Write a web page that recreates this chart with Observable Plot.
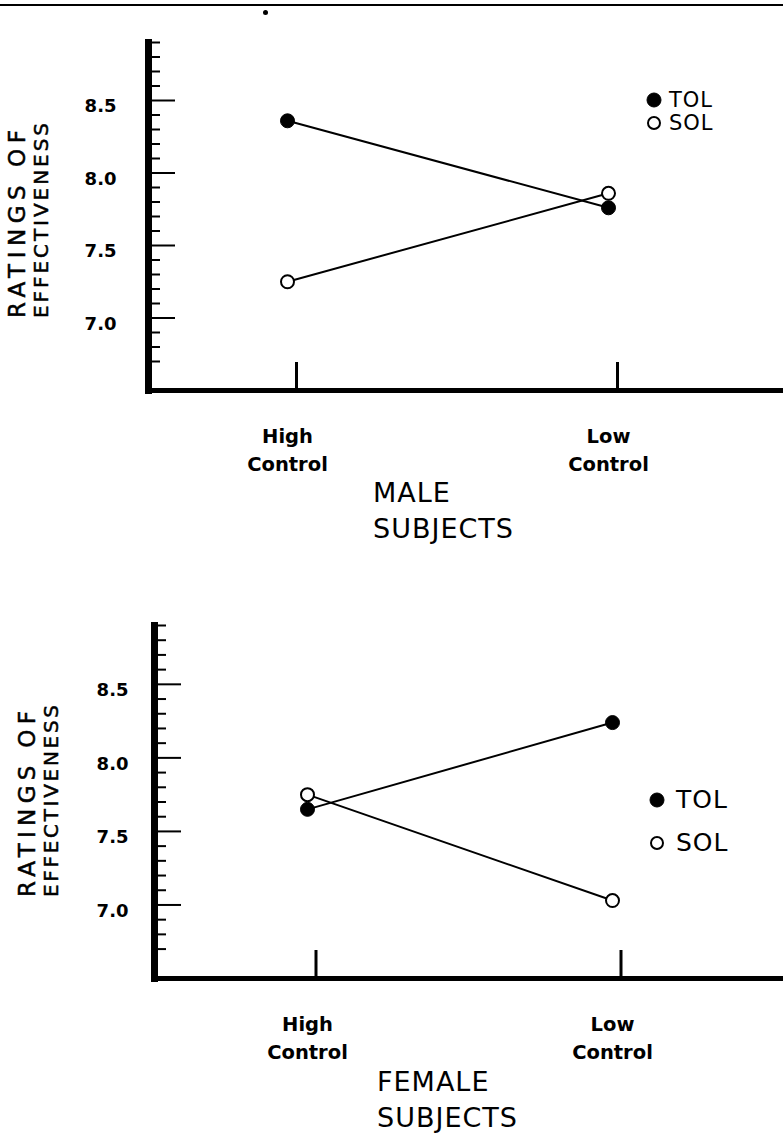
<!DOCTYPE html>
<html><head><meta charset="utf-8">
<script src="https://cdn.jsdelivr.net/npm/d3@7"></script>
<script src="https://cdn.jsdelivr.net/npm/@observablehq/plot@0.6"></script>
<style>
body{margin:0;background:#fff;width:783px;height:1134px;position:relative;overflow:hidden;font-family:"DejaVu Sans",sans-serif;color:#000}
.abs{position:absolute}
.title{position:absolute;font-size:27px;line-height:36px;letter-spacing:1px}
.leg{position:absolute;display:flex;align-items:center}
</style></head><body>
<div id="male" class="abs" style="left:0;top:0"></div>
<div id="female" class="abs" style="left:0;top:583px"></div>
<div class="abs" style="left:0;top:4px;width:783px;height:2px;background:#000"></div>
<div class="abs" style="left:263px;top:10px;width:5px;height:5px;border-radius:50%;background:#000"></div>
<div class="title" style="left:373px;top:475px">MALE<br>SUBJECTS</div>
<div class="title" style="left:377px;top:1064px">FEMALE<br>SUBJECTS</div>
<script>
const conditions = ["High Control", "Low Control"];
const groups = ["TOL", "SOL"];
const maleTOL = [8.36, 7.76];
const maleSOL = [7.25, 7.86];
const femaleTOL = [7.65, 8.24];
const femaleSOL = [7.75, 7.03];
const majorTicks = [7.0, 7.5, 8.0, 8.5];
const minorTicks = [6.7, 6.8, 6.9, 7.1, 7.2, 7.3, 7.4, 7.6, 7.7, 7.8, 7.9, 8.1, 8.2, 8.3, 8.4, 8.6, 8.7, 8.8, 8.9];
const yDomain = [6.5, 8.9];
const yTitle = ["RATINGS OF", "EFFECTIVENESS"];

function rowsFor(tol, sol) {
  const rows = [];
  conditions.forEach((c, i) => {
    rows.push({condition: c, group: groups[0], value: tol[i]});
    rows.push({condition: c, group: groups[1], value: sol[i]});
  });
  return rows;
}

function panel(el, tol, sol, cfg) {
  const rows = rowsFor(tol, sol);
  const chart = Plot.plot({
    width: 783, height: cfg.height,
    marginLeft: cfg.marginLeft, marginRight: 0, marginTop: 42, marginBottom: 85,
    style: {fontFamily: "DejaVu Sans, sans-serif", color: "black", background: "transparent"},
    x: {type: "point", domain: conditions, range: cfg.xRange, padding: 0},
    y: {domain: yDomain},
    marks: [
      Plot.axisY({ticks: minorTicks, tickSize: -12, fill: "none", strokeWidth: 2, label: null}),
      Plot.axisY({ticks: majorTicks, tickSize: -27, fill: "none", strokeWidth: 2, label: null}),
      Plot.axisY({ticks: majorTicks, tickSize: 0, tickPadding: cfg.yPad, tickFormat: d3.format(".1f"), fontSize: 18, fontWeight: "bold", dy: 6, label: null}),
      Plot.axisX({tickSize: -28, fill: "none", strokeWidth: 3, dx: cfg.tickDx, label: null}),
      Plot.axisX({tickSize: 0, tickPadding: 32, tickFormat: d => d.replace(" ", "\n"), fontSize: 19.5, fontWeight: "bold", lineHeight: 1.45, label: null}),
      Plot.frame({anchor: "left", strokeWidth: 7}),
      Plot.frame({anchor: "bottom", strokeWidth: 5}),
      Plot.line(rows, {x: "condition", y: "value", z: "group", stroke: "black", strokeWidth: 2}),
      Plot.dot(rows.filter(d => d.group === "TOL"), {x: "condition", y: "value", r: 7, fill: "black", stroke: "black", strokeWidth: 1}),
      Plot.dot(rows.filter(d => d.group === "SOL"), {x: "condition", y: "value", r: 6.5, fill: "white", stroke: "black", strokeWidth: 2})
    ]
  });
  el.appendChild(chart);

  // rotated y-axis title
  const ns = "http://www.w3.org/2000/svg";
  const svg = document.createElementNS(ns, "svg");
  svg.setAttribute("width", 80); svg.setAttribute("height", cfg.height);
  svg.style.position = "absolute"; svg.style.left = "0px"; svg.style.top = "0px";
  cfg.titleLines.forEach((t, i) => {
    const tx = document.createElementNS(ns, "text");
    tx.setAttribute("transform", `translate(${t.x},${t.y}) rotate(-90)`);
    tx.setAttribute("dominant-baseline", "central");
    tx.setAttribute("font-family", "DejaVu Sans, sans-serif");
    tx.setAttribute("font-size", t.size);
    tx.setAttribute("stroke", "black");
    tx.setAttribute("stroke-width", "0.5");
    tx.setAttribute("textLength", t.len);
    tx.setAttribute("lengthAdjust", "spacing");
    tx.textContent = yTitle[i];
    svg.appendChild(tx);
  });
  el.appendChild(svg);

  // legend
  const leg = cfg.legend;
  groups.forEach((g, i) => {
    const d = document.createElement("div");
    d.className = "leg";
    d.style.left = leg.x + "px";
    d.style.top = (leg.y + i * leg.gap) + "px";
    d.style.fontSize = leg.size + "px";
    const filled = g === "TOL";
    d.innerHTML = `<svg width="18" height="18" style="margin-right:${leg.space}px"><circle cx="9" cy="9" r="${filled ? 7 : 6}" fill="${filled ? "black" : "white"}" stroke="black" stroke-width="${filled ? 1 : 2}"/></svg><span style="letter-spacing:1px">${g}</span>`;
    el.appendChild(d);
  });
}

panel(document.getElementById("male"), maleTOL, maleSOL, {
  height: 475, marginLeft: 148, xRange: [287, 608], tickDx: 9, yPad: 32,
  titleLines: [{x: 17, y: 318, size: 23, len: 188}, {x: 41, y: 318, size: 20, len: 195}],
  legend: {x: 645, y: 88, gap: 23, size: 21, space: 6}
});
panel(document.getElementById("female"), femaleTOL, femaleSOL, {
  height: 480, marginLeft: 154, xRange: [307, 612], tickDx: 8.5, yPad: 26,
  titleLines: [{x: 27, y: 314, size: 23, len: 186}, {x: 51, y: 314, size: 20, len: 192}],
  legend: {x: 648, y: 202, gap: 43, size: 25, space: 10}
});
</script>
</body></html>
